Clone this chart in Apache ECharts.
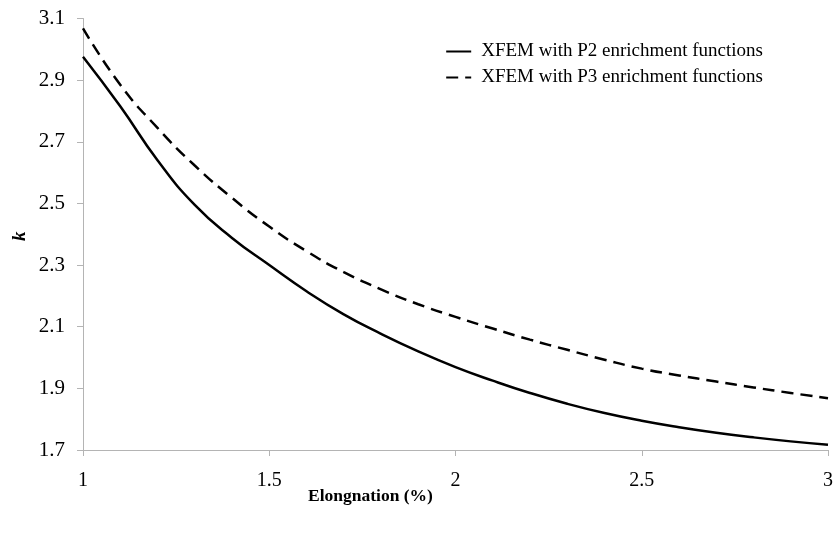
<!DOCTYPE html>
<html>
<head>
<meta charset="utf-8">
<script src="https://cdn.jsdelivr.net/npm/echarts@6/dist/echarts.min.js"></script>
<style>
  html, body { margin: 0; padding: 0; background: #fff; }
  #chart { width: 836px; height: 540px; }
</style>
</head>
<body>
<div id="chart"></div>
<script>
// elongation (%)
const elongation = [1.0, 1.1, 1.2, 1.3, 1.4, 1.5, 1.6, 1.7, 1.8, 1.9, 2.0, 2.1, 2.2, 2.3, 2.4, 2.5, 2.6, 2.7, 2.8, 2.9, 3.0]
// k values
const kP2 = [2.976, 2.815, 2.640, 2.495, 2.388, 2.300, 2.215, 2.140, 2.077, 2.020, 1.969, 1.925, 1.885, 1.850, 1.820, 1.795, 1.774, 1.756, 1.741, 1.728, 1.717]
const kP3 = [3.068, 2.885, 2.745, 2.623, 2.518, 2.425, 2.345, 2.277, 2.221, 2.173, 2.132, 2.094, 2.058, 2.025, 1.993, 1.964, 1.942, 1.922, 1.903, 1.885, 1.868]
const yTicks = [1.7, 1.9, 2.1, 2.3, 2.5, 2.7, 2.9, 3.1]
const seriesNames = ["XFEM with P2 enrichment functions", "XFEM with P3 enrichment functions"]

const font = "'Liberation Serif', 'Times New Roman', serif"
const chart = echarts.init(document.getElementById("chart"))

const pairs = (ys) => elongation.map((x, i) => [x, ys[i]])

const option = {
  animation: false,
  textStyle: { fontFamily: font },
  grid: { left: 83, right: 6, top: 18.5, bottom: 90, containLabel: false },
  legend: {
    orient: "vertical",
    right: 68,
    top: 37,
    itemWidth: 25,
    itemHeight: 14,
    itemGap: 7,
    itemStyle: { opacity: 0 },
    textStyle: { fontFamily: font, fontSize: 19, color: "#000", padding: [0, 0, 0, 5] },
    data: seriesNames
  },
  xAxis: {
    type: "value",
    min: 1,
    max: 3,
    interval: 0.5,
    axisLine: { lineStyle: { color: "#b4b4b4", width: 1 } },
    axisTick: { show: true, length: 6, lineStyle: { color: "#b4b4b4" } },
    axisLabel: { color: "#000", fontSize: 20, fontFamily: font, margin: 21 },
    splitLine: { show: false }
  },
  yAxis: {
    type: "value",
    min: 1.7,
    max: 3.1,
    axisLine: { show: true, lineStyle: { color: "#b4b4b4", width: 1 } },
    axisTick: { show: true, length: 6, customValues: yTicks, lineStyle: { color: "#b4b4b4" } },
    axisLabel: {
      color: "#000", fontSize: 21, fontFamily: font, margin: 18,
      customValues: yTicks,
      formatter: (v) => v.toFixed(1)
    },
    splitLine: { show: false }
  },
  graphic: [
    {
      type: "text",
      left: 308,
      top: 487,
      style: { text: "Elongnation (%)", font: "bold 17.5px " + font, fill: "#000" }
    },
    {
      type: "text",
      x: 11,
      y: 241,
      rotation: Math.PI / 2,
      style: { text: "k", font: "italic bold 19px " + font, fill: "#000" }
    }
  ],
  series: [
    {
      name: seriesNames[0],
      type: "line",
      data: pairs(kP2),
      smooth: 0.5,
      symbol: "none",
      lineStyle: { color: "#000", width: 2.5 },
      itemStyle: { color: "#000" }
    },
    {
      name: seriesNames[1],
      type: "line",
      data: pairs(kP3),
      smooth: 0.5,
      symbol: "none",
      lineStyle: { color: "#000", width: 2.5, type: [12, 7] },
      itemStyle: { color: "#000" }
    }
  ]
}

chart.setOption(option)
</script>
</body>
</html>
